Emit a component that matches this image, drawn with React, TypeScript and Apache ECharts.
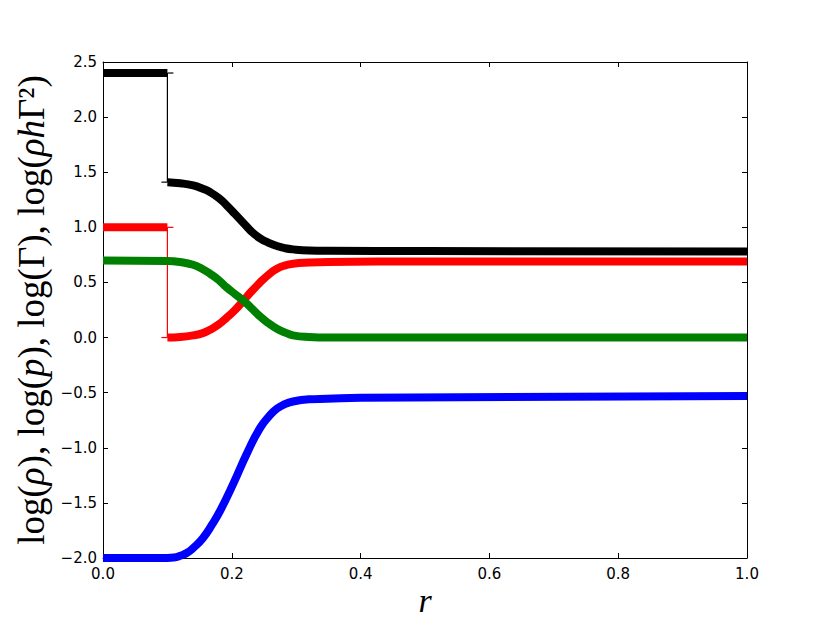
import React, { useEffect, useRef } from "react";
import * as echarts from "echarts";

// ---- data ----
const blackLeftR = [0, 0.1];
const blackLeftV = [2.4, 2.4];
const blackR = [0.1, 0.12, 0.14, 0.155, 0.166, 0.18, 0.192, 0.205, 0.218, 0.23, 0.244, 0.257, 0.27, 0.283, 0.295, 0.32, 0.35, 0.5, 1.0];
const blackV = [1.41, 1.4, 1.38, 1.35, 1.32, 1.265, 1.2, 1.12, 1.04, 0.965, 0.9, 0.86, 0.83, 0.81, 0.8, 0.79, 0.787, 0.785, 0.78];
const blackJumpR = [0.1, 0.1];
const blackJumpV = [2.4, 1.41];

const redLeftR = [0, 0.1];
const redLeftV = [1.0, 1.0];
const redR = [0.1, 0.12, 0.14, 0.155, 0.166, 0.18, 0.192, 0.205, 0.218, 0.23, 0.244, 0.257, 0.27, 0.283, 0.295, 0.32, 0.35, 0.5, 1.0];
const redV = [0.0, 0.005, 0.02, 0.04, 0.07, 0.12, 0.18, 0.25, 0.335, 0.415, 0.5, 0.57, 0.625, 0.655, 0.67, 0.68, 0.685, 0.69, 0.69];
const redJumpR = [0.1, 0.1];
const redJumpV = [1.0, 0.0];

const greenR = [0, 0.1, 0.12, 0.14, 0.155, 0.166, 0.18, 0.192, 0.205, 0.218, 0.23, 0.244, 0.257, 0.27, 0.283, 0.295, 0.32, 0.35, 1.0];
const greenV = [0.7, 0.695, 0.685, 0.66, 0.62, 0.58, 0.52, 0.455, 0.395, 0.335, 0.27, 0.19, 0.13, 0.08, 0.045, 0.02, 0.005, 0.0, 0.0];

const blueR = [0, 0.089, 0.11, 0.12, 0.13, 0.14, 0.155, 0.17, 0.182, 0.202, 0.224, 0.244, 0.26, 0.27, 0.28, 0.295, 0.32, 0.348, 0.4, 1.0];
const blueV = [-2.0, -2.0, -1.995, -1.98, -1.955, -1.91, -1.82, -1.69, -1.57, -1.33, -1.045, -0.82, -0.7, -0.645, -0.61, -0.58, -0.56, -0.555, -0.545, -0.53];

const xMin = 0, xMax = 1, xStep = 0.2;
const yMin = -2, yMax = 2.5, yStep = 0.5;

const pairs = (xs: number[], ys: number[]) => xs.map((x, i) => [x, ys[i]]);

export default function App() {
  const ref = useRef<HTMLDivElement>(null);
  useEffect(() => {
    if (!ref.current) return;
    const chart = echarts.init(ref.current, null, { renderer: "svg" });
    const fmt = (v: number) => v.toFixed(1).replace("-", "\u2212");
    const labelStyle = { fontFamily: "DejaVu Sans", fontSize: 15, color: "#000" };
    const thick = (data: number[][], color: string, smooth: boolean) => ({
      type: "line",
      data,
      symbol: "none",
      showSymbol: false,
      smooth: smooth ? 0.5 : false,
      lineStyle: { color, width: 8, cap: "butt", join: "round" },
      itemStyle: { color },
      silent: true,
    });
    const jump = (xs: number[], ys: number[], color: string) => ({
      type: "line",
      data: [
        { value: [xs[0], ys[0]], symbolOffset: [3, 0] },
        { value: [xs[1], ys[1]], symbolOffset: [-3, 0] },
      ],
      symbol: "rect",
      symbolSize: [6, 1.2],
      showSymbol: true,
      lineStyle: { color, width: 1.2 },
      itemStyle: { color },
      silent: true,
    });
    const serif = "'Liberation Serif', 'DejaVu Serif', serif";
    chart.setOption({
      animation: false,
      backgroundColor: "#fff",
      grid: { left: 103, right: 83, top: 62, bottom: 65, containLabel: false },
      xAxis: [
        {
          type: "value", min: xMin, max: xMax, interval: xStep, position: "bottom",
          axisLine: { show: true, onZero: false, lineStyle: { color: "#000", width: 1 } },
          axisTick: { show: true, inside: true, length: 5, lineStyle: { color: "#000" } },
          axisLabel: { ...labelStyle, margin: 8, formatter: fmt },
          splitLine: { show: false },
        },
        {
          type: "value", min: xMin, max: xMax, interval: xStep, position: "top",
          axisLine: { show: true, onZero: false, lineStyle: { color: "#000", width: 1 } },
          axisTick: { show: true, inside: true, length: 5, lineStyle: { color: "#000" } },
          axisLabel: { show: false },
          splitLine: { show: false },
        },
      ],
      yAxis: [
        {
          type: "value", min: yMin, max: yMax, interval: yStep, position: "left",
          axisLine: { show: true, onZero: false, lineStyle: { color: "#000", width: 1 } },
          axisTick: { show: true, inside: true, length: 5, lineStyle: { color: "#000" } },
          axisLabel: { ...labelStyle, margin: 6, formatter: fmt },
          splitLine: { show: false },
        },
        {
          type: "value", min: yMin, max: yMax, interval: yStep, position: "right",
          axisLine: { show: true, onZero: false, lineStyle: { color: "#000", width: 1 } },
          axisTick: { show: true, inside: true, length: 5, lineStyle: { color: "#000" } },
          axisLabel: { show: false },
          splitLine: { show: false },
        },
      ],
      series: [
        thick(pairs(redLeftR, redLeftV), "#ff0000", false),
        thick(pairs(redR, redV), "#ff0000", true),
        jump(redJumpR, redJumpV, "#ff0000"),
        thick(pairs(greenR, greenV), "#008000", true),
        thick(pairs(blackLeftR, blackLeftV), "#000000", false),
        thick(pairs(blackR, blackV), "#000000", true),
        jump(blackJumpR, blackJumpV, "#000000"),
        thick(pairs(blueR, blueV), "#0000ff", true),
      ],
      graphic: [
        {
          type: "text",
          x: 31,
          y: 310,
          rotation: Math.PI / 2,
          style: {
            text: "{n|log(}{i|\u03c1}{n|), log(}{i|p}{n|), log(\u0393), log(}{i|\u03c1h}{n|\u0393\u00b2)}",
            textAlign: "center",
            textVerticalAlign: "middle",
            rich: {
              n: { fontFamily: serif, fontSize: 37, fill: "#000" },
              i: { fontFamily: serif, fontSize: 37, fontStyle: "italic", fill: "#000" },
            },
          },
        },
        {
          type: "text",
          x: 425,
          y: 600,
          style: {
            text: "r",
            font: "italic 34px 'Liberation Serif'",
            textAlign: "center",
            textVerticalAlign: "middle",
            fill: "#000",
          },
        },
      ],
    });
    return () => chart.dispose();
  }, []);
  return (
    <div
      ref={ref}
      style={{ position: "absolute", left: 0, top: 0, width: 830, height: 623 }}
    />
  );
}
